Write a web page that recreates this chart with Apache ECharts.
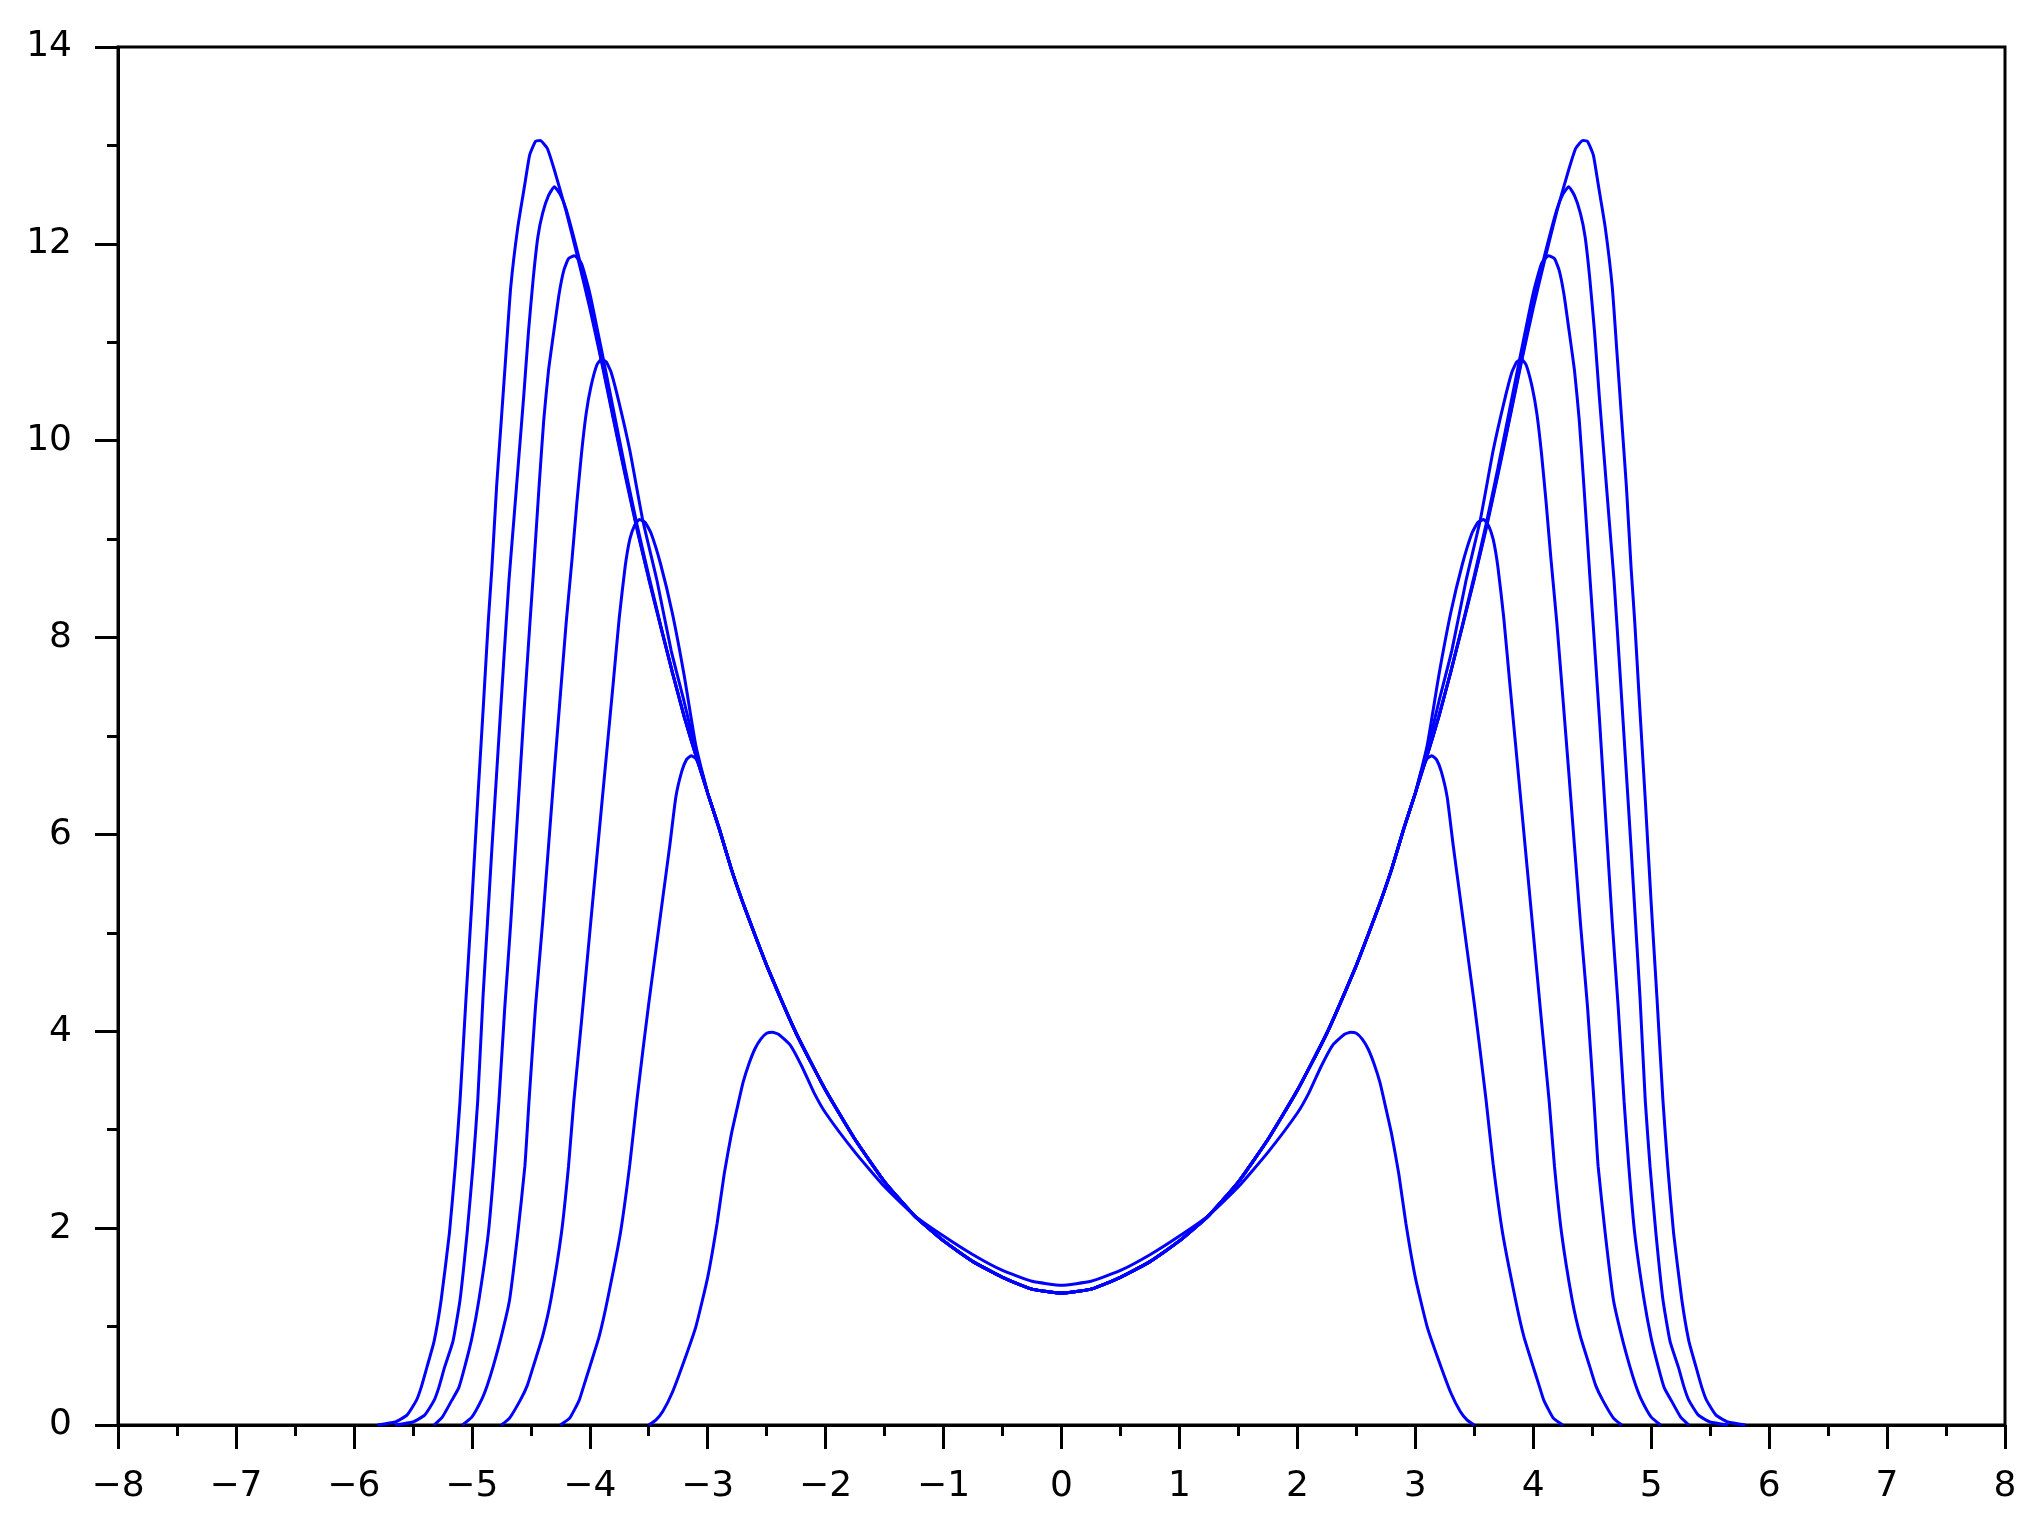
<!DOCTYPE html>
<html>
<head>
<meta charset="utf-8">
<title>curves</title>
<script src="https://cdn.jsdelivr.net/npm/echarts@6/dist/echarts.min.js"></script>
<style>
    html, body { margin: 0; padding: 0; background: #fff; }
    #chart { width: 2041px; height: 1532px; }
</style>
</head>
<body>
<div id="chart"></div>
<script>
// right half of each curve (x >= 0), the picture is mirror symmetric
var envX = [0, 0.25, 0.5, 0.75, 1.0, 1.25, 1.5, 1.75, 2.0, 2.25, 2.5, 2.6, 2.7, 2.8, 2.9, 3.0];
var envY = [1.34, 1.38, 1.5, 1.66, 1.87, 2.13, 2.47, 2.9, 3.4, 3.98, 4.67, 4.98, 5.3, 5.65, 6.05, 6.42];

var tailA = [[3.1, 6.8], [3.2, 7.2], [3.3, 7.65], [3.4, 8.12], [3.5, 8.6], [3.6, 9.1], [3.7, 9.65], [3.8, 10.22],
    [3.9, 10.8], [4.0, 11.35], [4.1, 11.85], [4.2, 12.33], [4.3, 12.75], [4.36, 12.97], [4.42, 13.05], [4.46, 13.04],
    [4.51, 12.9], [4.55, 12.61], [4.61, 12.17], [4.67, 11.56], [4.71, 10.89], [4.75, 10.21], [4.79, 9.53], [4.83, 8.7],
    [4.86, 8.17], [4.9, 7.35], [4.95, 6.35], [5.0, 5.3], [5.05, 4.32], [5.1, 3.29], [5.14, 2.63], [5.19, 1.95],
    [5.26, 1.27], [5.32, 0.85], [5.38, 0.59], [5.43, 0.38], [5.47, 0.25], [5.55, 0.1], [5.65, 0.03], [5.8, 0]];

var tailB = [[3.1, 6.8], [3.2, 7.2], [3.3, 7.65], [3.4, 8.12], [3.5, 8.6], [3.6, 9.12], [3.7, 9.67], [3.8, 10.24],
    [3.9, 10.82], [4.0, 11.4], [4.1, 11.9], [4.2, 12.35], [4.25, 12.5], [4.3, 12.58], [4.35, 12.49], [4.4, 12.31],
    [4.44, 12.07], [4.48, 11.64], [4.52, 11.1], [4.56, 10.45], [4.6, 9.85], [4.64, 9.25], [4.685, 8.58], [4.73, 7.75],
    [4.78, 6.8], [4.83, 5.85], [4.87, 5.05], [4.905, 4.35], [4.95, 3.29], [4.99, 2.63], [5.04, 1.95], [5.1, 1.27],
    [5.16, 0.85], [5.23, 0.59], [5.28, 0.38], [5.32, 0.25], [5.4, 0.1], [5.5, 0.03], [5.65, 0]];

var tailC = [[3.1, 6.8], [3.2, 7.2], [3.3, 7.65], [3.4, 8.13], [3.5, 8.63], [3.6, 9.15], [3.7, 9.72], [3.8, 10.32],
    [3.9, 10.92], [4.0, 11.5], [4.07, 11.8], [4.13, 11.88], [4.18, 11.85], [4.22, 11.73], [4.26, 11.49], [4.3, 11.15],
    [4.35, 10.71], [4.39, 10.21], [4.43, 9.53], [4.48, 8.62], [4.51, 8.1], [4.56, 7.2], [4.62, 6.05], [4.67, 5.1],
    [4.72, 4.25], [4.77, 3.29], [4.81, 2.63], [4.86, 1.95], [4.94, 1.27], [5.0, 0.88], [5.06, 0.59], [5.11, 0.38],
    [5.17, 0.25], [5.25, 0.08], [5.32, 0]];

var tailD = [[3.1, 6.85], [3.2, 7.35], [3.31, 7.87], [3.43, 8.58], [3.55, 9.19], [3.66, 9.9], [3.75, 10.38],
    [3.82, 10.7], [3.86, 10.8], [3.9, 10.83], [3.94, 10.77], [3.99, 10.55], [4.03, 10.28], [4.07, 9.87], [4.11, 9.36],
    [4.15, 8.8], [4.2, 8.15], [4.3, 6.65], [4.4, 5.1], [4.46, 4.25], [4.515, 3.29], [4.55, 2.63], [4.61, 1.95],
    [4.68, 1.27], [4.75, 0.9], [4.82, 0.59], [4.87, 0.4], [4.92, 0.25], [5.0, 0.08], [5.08, 0]];

var tailE = [[3.1, 6.9], [3.2, 7.62], [3.3, 8.25], [3.4, 8.75], [3.48, 9.06], [3.53, 9.17], [3.58, 9.2], [3.62, 9.14],
    [3.66, 9.0], [3.7, 8.72], [3.75, 8.2], [3.8, 7.55], [3.9, 6.28], [4.0, 5.0], [4.07, 4.1], [4.135, 3.29],
    [4.18, 2.63], [4.24, 1.95], [4.33, 1.27], [4.4, 0.9], [4.48, 0.59], [4.53, 0.4], [4.59, 0.25], [4.68, 0.07], [4.75, 0]];

var tailF = [[3.05, 6.64], [3.1, 6.77], [3.14, 6.8], [3.18, 6.76], [3.22, 6.64], [3.27, 6.38], [3.32, 5.9],
    [3.38, 5.36], [3.44, 4.82], [3.5, 4.28], [3.55, 3.8], [3.6, 3.3], [3.66, 2.65], [3.74, 1.95], [3.85, 1.27],
    [3.92, 0.9], [4.0, 0.59], [4.05, 0.4], [4.09, 0.25], [4.17, 0.07], [4.25, 0]];

var curveG = [[0, 1.42], [0.25, 1.46], [0.5, 1.57], [0.75, 1.73], [1.0, 1.92], [1.25, 2.13], [1.5, 2.42],
    [1.75, 2.77], [2.0, 3.17], [2.1, 3.38], [2.2, 3.64], [2.3, 3.86], [2.4, 3.97], [2.45, 3.99], [2.5, 3.98],
    [2.55, 3.92], [2.6, 3.82], [2.65, 3.67], [2.7, 3.48], [2.75, 3.22], [2.8, 2.95], [2.86, 2.55], [2.92, 2.05],
    [3.0, 1.5], [3.1, 1.0], [3.2, 0.65], [3.3, 0.33], [3.38, 0.14], [3.44, 0.05], [3.5, 0]];

var xTicks = [-8, -7, -6, -5, -4, -3, -2, -1, 0, 1, 2, 3, 4, 5, 6, 7, 8];
var yTicks = [0, 2, 4, 6, 8, 10, 12, 14];

//envelope + own tail
function halfCurve(tail) {
    var pts = [];
    for (var i = 0, len = envX.length; i < len; i++) {
        pts.push([envX[i], envY[i]]);
    }
    return pts.concat(tail);
}

//mirror the right half onto x < 0
function fullCurve(half) {
    var left = [];
    for (var i = half.length - 1; i > 0; i--) {
        left.push([-half[i][0], half[i][1]]);
    }
    return left.concat(half);
}

function fmt(v) {
    if (v < 0)
        return "\u2212" + Math.abs(v);
    return "" + v;
}

var curves = [
    fullCurve(halfCurve(tailA)),
    fullCurve(halfCurve(tailB)),
    fullCurve(halfCurve(tailC)),
    fullCurve(halfCurve(tailD)),
    fullCurve(halfCurve(tailE)),
    fullCurve(halfCurve(tailF)),
    fullCurve(curveG)
];

var series = [];
for (var i = 0; i < curves.length; i++) {
    series.push({
        type: 'line',
        data: curves[i],
        showSymbol: false,
        symbol: 'none',
        smooth: 0.15,
        clip: false,
        lineStyle: { color: '#0000ff', width: 3 }
    });
}

var black = '#000';
var labelFont = { fontFamily: 'DejaVu Sans', fontSize: 36, color: black };

var option = {
    animation: false,
    backgroundColor: '#fff',
    grid: {
        left: 118, right: 36, top: 47, bottom: 107,
        show: true, borderColor: black, borderWidth: 3, backgroundColor: 'transparent'
    },
    xAxis: {
        type: 'value',
        min: xTicks[0], max: xTicks[xTicks.length - 1], interval: 1,
        axisLine: { onZero: false, lineStyle: { color: black, width: 3 } },
        axisTick: { length: 24, lineStyle: { color: black, width: 3 } },
        minorTick: { show: true, splitNumber: 2, length: 11, lineStyle: { color: black, width: 3 } },
        splitLine: { show: false },
        axisLabel: Object.assign({ margin: 44, formatter: fmt }, labelFont)
    },
    yAxis: {
        type: 'value',
        min: yTicks[0], max: yTicks[yTicks.length - 1], interval: 2,
        axisLine: { onZero: false, lineStyle: { color: black, width: 3 } },
        axisTick: { length: 23, lineStyle: { color: black, width: 3 } },
        minorTick: { show: true, splitNumber: 2, length: 11, lineStyle: { color: black, width: 3 } },
        splitLine: { show: false },
        axisLabel: Object.assign({ margin: 46, formatter: fmt }, labelFont)
    },
    series: series
};

echarts.init(document.getElementById('chart')).setOption(option);
</script>
</body>
</html>
